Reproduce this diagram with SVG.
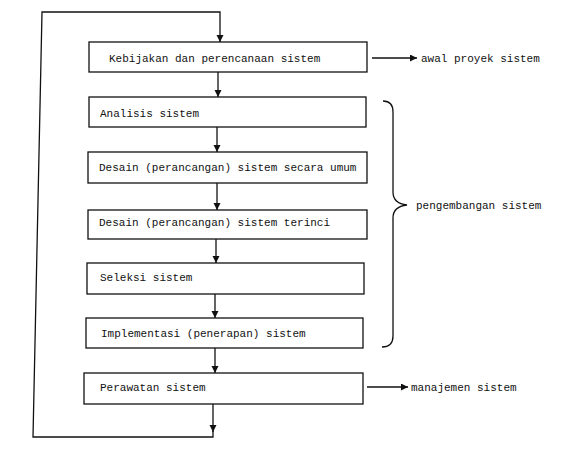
<svg xmlns="http://www.w3.org/2000/svg" width="573" height="458" viewBox="0 0 573 458">
<style>
.box{fill:#fff;stroke:#111;stroke-width:1.3}
.ln{fill:none;stroke:#111;stroke-width:1.3}
.t{font-family:"Liberation Mono","DejaVu Sans Mono",monospace;font-size:11px;fill:#111}
</style>
<defs>
<marker id="ah" markerUnits="userSpaceOnUse" markerWidth="8" markerHeight="8" refX="7" refY="3.5" orient="auto">
<path d="M0,0 L7,3.5 L0,7 z" fill="#111"/>
</marker>
</defs>
<rect width="573" height="458" fill="#fff"/>
<g id="connectors">
<path class="ln" d="M218,72 L218,97" marker-end="url(#ah)"/>
<path class="ln" d="M217,127 L217,152" marker-end="url(#ah)"/>
<path class="ln" d="M217,183 L217,210" marker-end="url(#ah)"/>
<path class="ln" d="M216,239 L216,263" marker-end="url(#ah)"/>
<path class="ln" d="M215,294 L215,318" marker-end="url(#ah)"/>
<path class="ln" d="M215,348 L215,373" marker-end="url(#ah)"/>
<path class="ln" d="M213,404 L213,432" marker-end="url(#ah)"/>
<path class="ln" d="M213,431 L213,437 L33,437 L42,12 L220,12 L220,42" marker-end="url(#ah)"/>
<path class="ln" d="M372,58 L417,58" marker-end="url(#ah)"/>
<path class="ln" d="M367,387 L408,387" marker-end="url(#ah)"/>
<path class="ln" d="M383,101 C390,101 393,105 393,112 L393,192 C393,200 398,204 407,205 C398,206 393,210 393,218 L393,336 C393,343 390,347 382,347"/>
</g>
<g id="n1"><rect class="box" x="89" y="42" width="278" height="30"/><text class="t" x="109" y="62">Kebijakan dan perencanaan sistem</text></g>
<g id="n2"><rect class="box" x="89" y="97" width="277" height="30"/><text class="t" x="100" y="117">Analisis sistem</text></g>
<g id="n3"><rect class="box" x="88" y="152" width="279" height="31"/><text class="t" x="99" y="171">Desain (perancangan) sistem secara umum</text></g>
<g id="n4"><rect class="box" x="88" y="210" width="279" height="29"/><text class="t" x="99" y="226">Desain (perancangan) sistem terinci</text></g>
<g id="n5"><rect class="box" x="87" y="263" width="277" height="31"/><text class="t" x="100" y="281">Seleksi sistem</text></g>
<g id="n6"><rect class="box" x="86" y="318" width="277" height="30"/><text class="t" x="101" y="337">Implementasi (penerapan) sistem</text></g>
<g id="n7"><rect class="box" x="84" y="373" width="279" height="31"/><text class="t" x="100" y="391">Perawatan sistem</text></g>
<g id="labels">
<text class="t" x="421" y="62">awal proyek sistem</text>
<text class="t" x="416" y="209">pengembangan sistem</text>
<text class="t" x="411" y="391">manajemen sistem</text>
</g>
</svg>
